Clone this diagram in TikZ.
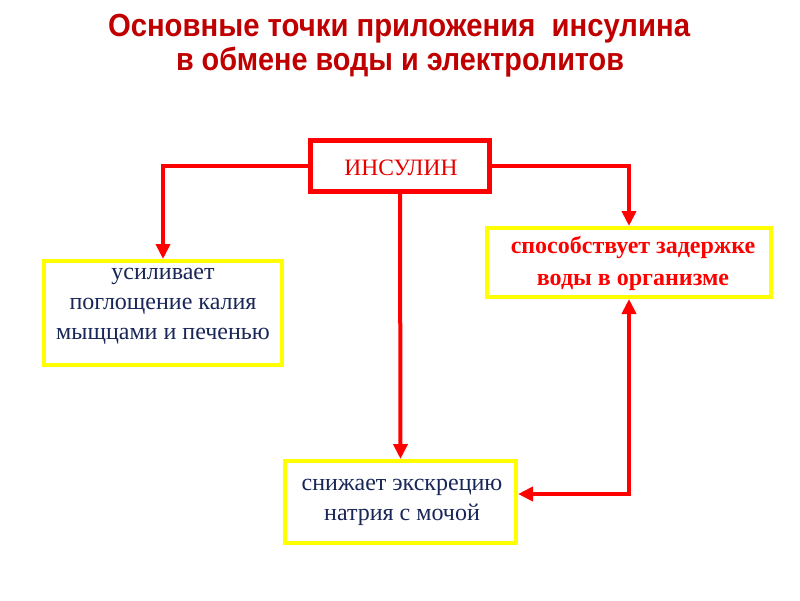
\documentclass[tikz,border=0pt]{standalone}
\usepackage{fontspec}
\setmainfont{Liberation Serif}
\newfontfamily\titlefont{Liberation Sans}
\usetikzlibrary{arrows.meta}
\definecolor{titlered}{RGB}{192,0,0}
\definecolor{linered}{RGB}{255,0,0}
\definecolor{boxyellow}{RGB}{255,255,0}
\definecolor{navytext}{RGB}{25,38,88}
\tikzset{
  insbox/.style={draw=linered, line width=5pt, fill=white, rectangle, inner sep=0pt},
  ybox/.style={draw=boxyellow, line width=4pt, fill=white, rectangle, inner sep=0pt},
  btext/.style={font=\fontsize{24}{30}\selectfont, align=center, inner sep=0pt},
  conn/.style={draw=linered, line width=4pt, -{Triangle[length=15pt,width=14pt]}},
  conn2/.style={draw=linered, line width=4pt, {Triangle[length=15pt,width=14pt]}-{Triangle[length=15pt,width=14pt]}},
  ttl/.style={font=\titlefont\bfseries\fontsize{32}{36}\selectfont, text=titlered, anchor=base, inner sep=0pt}
}
\begin{document}
\begin{tikzpicture}[x=1pt,y=-1pt]
\useasboundingbox[fill=white] (0,0) rectangle (800,600);
\node[ttl] (t1) at (399,36) {\resizebox{582pt}{\height}{Основные точки приложения\ \ инсулина}};
\node[ttl] (t2) at (400,70) {\resizebox{448pt}{\height}{в обмене воды и электролитов}};
\node[insbox, minimum width=179pt, minimum height=51pt] (ins) at (400,166) {};
\node[btext, text=linered!90!black, font=\fontsize{23.5}{30}\selectfont] (insT) at (401,168) {ИНСУЛИН};
\node[ybox, minimum width=238pt, minimum height=104pt] (lft) at (163,313) {};
\node[btext, text=navytext] (lftT) at (163,306) {усиливает\\поглощение калия\\мыщцами и печенью};
\node[ybox, minimum width=284pt, minimum height=69pt] (rgt) at (629,262.5) {};
\node[btext, text=linered, font=\bfseries\fontsize{24}{32}\selectfont] (rgtT) at (633,263) {способствует задержке\\воды в организме};
\node[ybox, minimum width=231pt, minimum height=82pt] (bot) at (400.5,502) {};
\node[btext, text=navytext] (botT) at (402,502) {снижает экскрецию\\натрия с мочой};
\draw[conn] (ins.west) -| (lft.north);
\draw[conn] (ins.east) -| (rgt.north);
\draw[conn] (ins.south) -- (bot.north);
\draw[conn2] ([yshift=8pt]bot.east) -| (rgt.south);
\end{tikzpicture}
\end{document}
